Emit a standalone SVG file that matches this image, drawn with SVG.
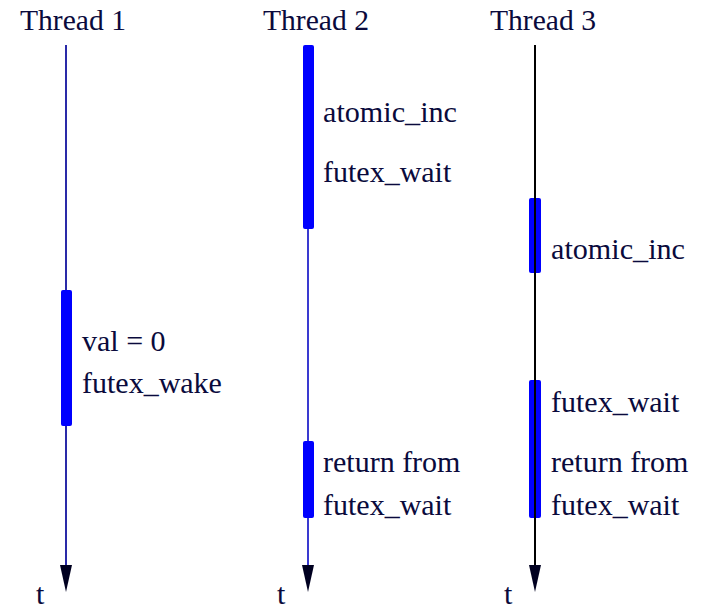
<svg xmlns="http://www.w3.org/2000/svg" width="702" height="609" viewBox="0 0 702 609">
<style>
text{font-family:"Liberation Serif","Times New Roman",serif;font-size:30px;fill:#0a0a3c}
.bar{fill:#0000ff}
.tl{stroke-width:2;fill:none}
.head{fill:#000020}
</style>
<rect width="702" height="609" fill="#fff"/>
<g id="connectors">
<line class="tl" x1="66" y1="45" x2="66" y2="570" stroke="#2a2aa8"/>
<polygon class="head" points="60,565 72,565 66,592"/>
<line class="tl" x1="308" y1="45" x2="308" y2="570" stroke="#3a3ad0"/>
<polygon class="head" points="302,565 314,565 308,592"/>
<line class="tl" x1="535" y1="45" x2="535" y2="570" stroke="#000"/>
<polygon class="head" points="529,565 541,565 535,592"/>
</g>
<g id="thread1">
<text x="20" y="30" textLength="106" lengthAdjust="spacingAndGlyphs">Thread 1</text>
<rect class="bar" x="61" y="290" width="11" height="136" rx="2"/>
<text x="82" y="351">val = 0</text>
<text x="82" y="393">futex_wake</text>
<text x="36" y="604">t</text>
</g>
<g id="thread2">
<text x="263" y="30" textLength="106" lengthAdjust="spacingAndGlyphs">Thread 2</text>
<rect class="bar" x="303" y="45" width="11" height="184" rx="2"/>
<text x="323" y="122" textLength="134" lengthAdjust="spacingAndGlyphs">atomic_inc</text>
<text x="323" y="182">futex_wait</text>
<rect class="bar" x="303" y="441" width="11" height="77" rx="2"/>
<text x="323" y="472">return from</text>
<text x="323" y="515">futex_wait</text>
<text x="277" y="604">t</text>
</g>
<g id="thread3">
<text x="490" y="30" textLength="106" lengthAdjust="spacingAndGlyphs">Thread 3</text>
<rect class="bar" x="529" y="198" width="12" height="75" rx="2"/>
<line x1="535" y1="198" x2="535" y2="273" stroke="#000" stroke-width="2"/>
<text x="551" y="259" textLength="134" lengthAdjust="spacingAndGlyphs">atomic_inc</text>
<rect class="bar" x="529" y="380" width="12" height="138" rx="2"/>
<line x1="535" y1="380" x2="535" y2="518" stroke="#000" stroke-width="2"/>
<text x="551" y="412">futex_wait</text>
<text x="551" y="472">return from</text>
<text x="551" y="515">futex_wait</text>
<text x="504" y="604">t</text>
</g>
</svg>
